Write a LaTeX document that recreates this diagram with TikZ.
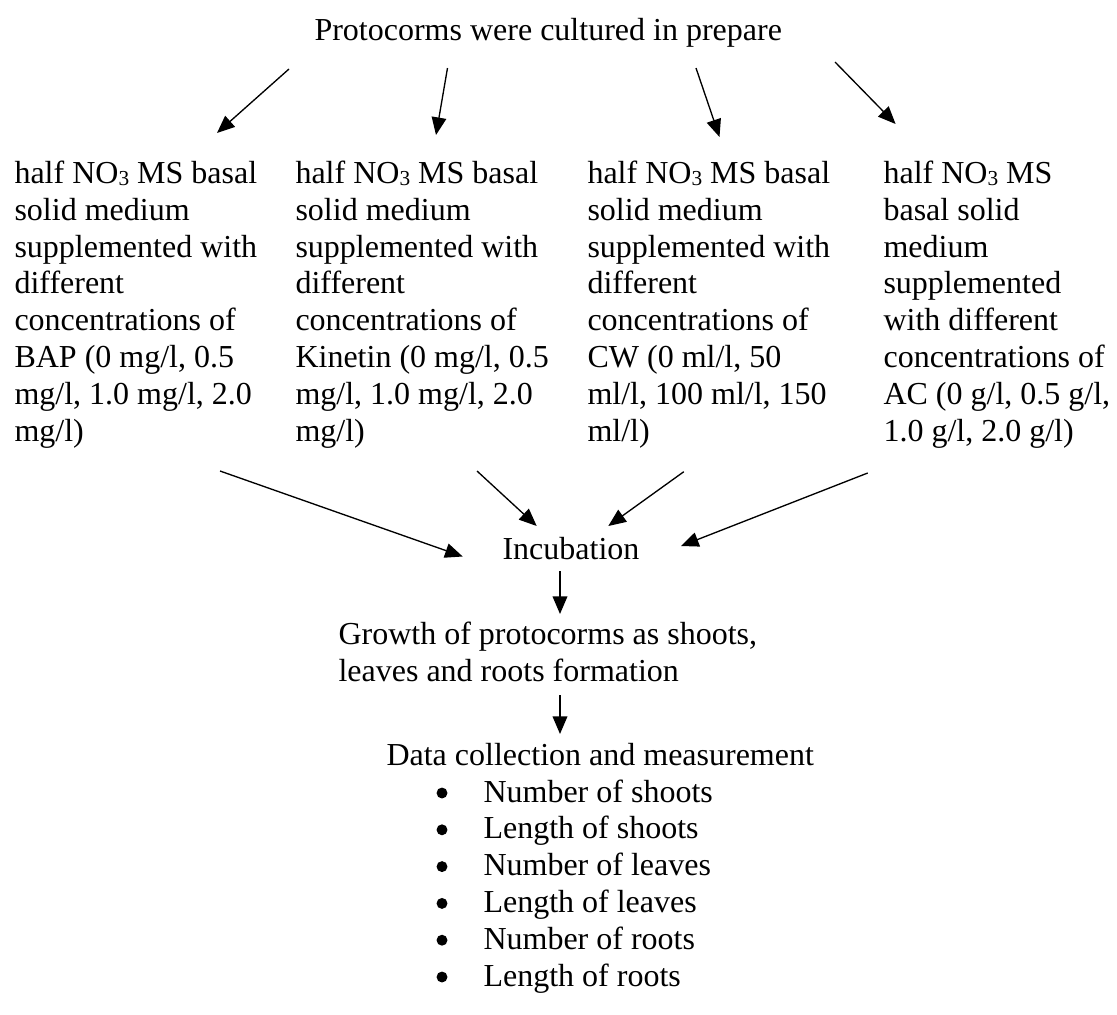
\documentclass[tikz,border=0pt]{standalone}
\usepackage{fontspec}
\setmainfont{Liberation Serif}
\usetikzlibrary{positioning,arrows.meta}
\newcommand{\nothree}{NO\raisebox{-0.8pt}{\fontsize{8}{8}\selectfont 3}}

\begin{document}
\begin{tikzpicture}[
x=0.375pt, y=-0.375pt,
block/.style={inner sep=0, align=left, anchor=north west, font=\fontsize{12}{13.8}\selectfont},
single/.style={inner sep=0, anchor=base west, font=\fontsize{12}{13.8}\selectfont},
arr/.style={line width=0.5pt, -{Triangle[length=6.6pt,width=5.5pt]}},
dot/.style={circle, fill, inner sep=0, minimum size=4.1pt},
]
\useasboundingbox (0,0) rectangle (1117,1014);
% protocorms in the prepared media
\node[single] (protocorms) at (314,40) {Protocorms were cultured in prepare};
\node[block] (bap) at (14,157.2) {\strut half \nothree{} MS basal\\solid medium\\supplemented with\\different\\concentrations of\\BAP (0 mg/l, 0.5\\mg/l, 1.0 mg/l, 2.0\\mg/l)};
\node[block] (kinetin) at (295,157.2) {\strut half \nothree{} MS basal\\solid medium\\supplemented with\\different\\concentrations of\\Kinetin (0 mg/l, 0.5\\mg/l, 1.0 mg/l, 2.0\\mg/l)};
\node[block] (cw) at (587,157.2) {\strut half \nothree{} MS basal\\solid medium\\supplemented with\\different\\concentrations of\\CW (0 ml/l, 50\\ml/l, 100 ml/l, 150\\ml/l)};
\node[block] (ac) at (883,157.2) {\strut half \nothree{} MS\\basal solid\\medium\\supplemented\\with different\\concentrations of\\AC (0 g/l, 0.5 g/l,\\1.0 g/l, 2.0 g/l)};
% arrow ends
\coordinate (p1) at (289,69);    \coordinate (bapin) at (217,133);
\coordinate (p2) at (447.5,68);  \coordinate (kinin) at (436,135);
\coordinate (p3) at (696,68);    \coordinate (cwin) at (719.5,137);
\coordinate (p4) at (835,62);    \coordinate (acin) at (895.6,124);
\draw[arr] (p1) -- (bapin);
\draw[arr] (p2) -- (kinin);
\draw[arr] (p3) -- (cwin);
\draw[arr] (p4) -- (acin);

%%% incubation and growth
\node[single] (incubation) at (502,559) {Incubation};
\coordinate (bapout) at (220,471);   \coordinate (i1) at (462.7,556.5);
\coordinate (kinout) at (477,471);   \coordinate (i2) at (536.7,526);
\coordinate (cwout) at (683.8,471.7); \coordinate (i3) at (608.3,526);
\coordinate (acout) at (867.7,473);  \coordinate (i4) at (681,546);
\draw[arr] (bapout) -- (i1);
\draw[arr] (kinout) -- (i2);
\draw[arr] (cwout) -- (i3);
\draw[arr] (acout) -- (i4);

\node[block] (growth) at (338,618.2) {\strut Growth of protocorms as shoots,\\leaves and roots formation};
\coordinate (incout) at (560,571);   \coordinate (grin) at (560,614);
\draw[arr] (incout) -- (grin);

% data collection
\node[single] (data) at (386,765) {Data collection and measurement};
\coordinate (grout) at (560,695);    \coordinate (datain) at (560,734);
\draw[arr] (grout) -- (datain);

\node[single] (nshoots) at (483,802) {Number of shoots};
\node[single] (lshoots) at (483,838.8) {Length of shoots};
\node[single] (nleaves) at (483,875.6) {Number of leaves};
\node[single] (lleaves) at (483,912.4) {Length of leaves};
\node[single] (nroots) at (483,949.2) {Number of roots};
\node[single] (lroots) at (483,986) {Length of roots};
\node[dot] at ([shift={(-41,-9)}]nshoots.base west) {};
\node[dot] at ([shift={(-41,-9)}]lshoots.base west) {};
\node[dot] at ([shift={(-41,-9)}]nleaves.base west) {};
\node[dot] at ([shift={(-41,-9)}]lleaves.base west) {};
\node[dot] at ([shift={(-41,-9)}]nroots.base west) {};
\node[dot] at ([shift={(-41,-9)}]lroots.base west) {};
\end{tikzpicture}
\end{document}
